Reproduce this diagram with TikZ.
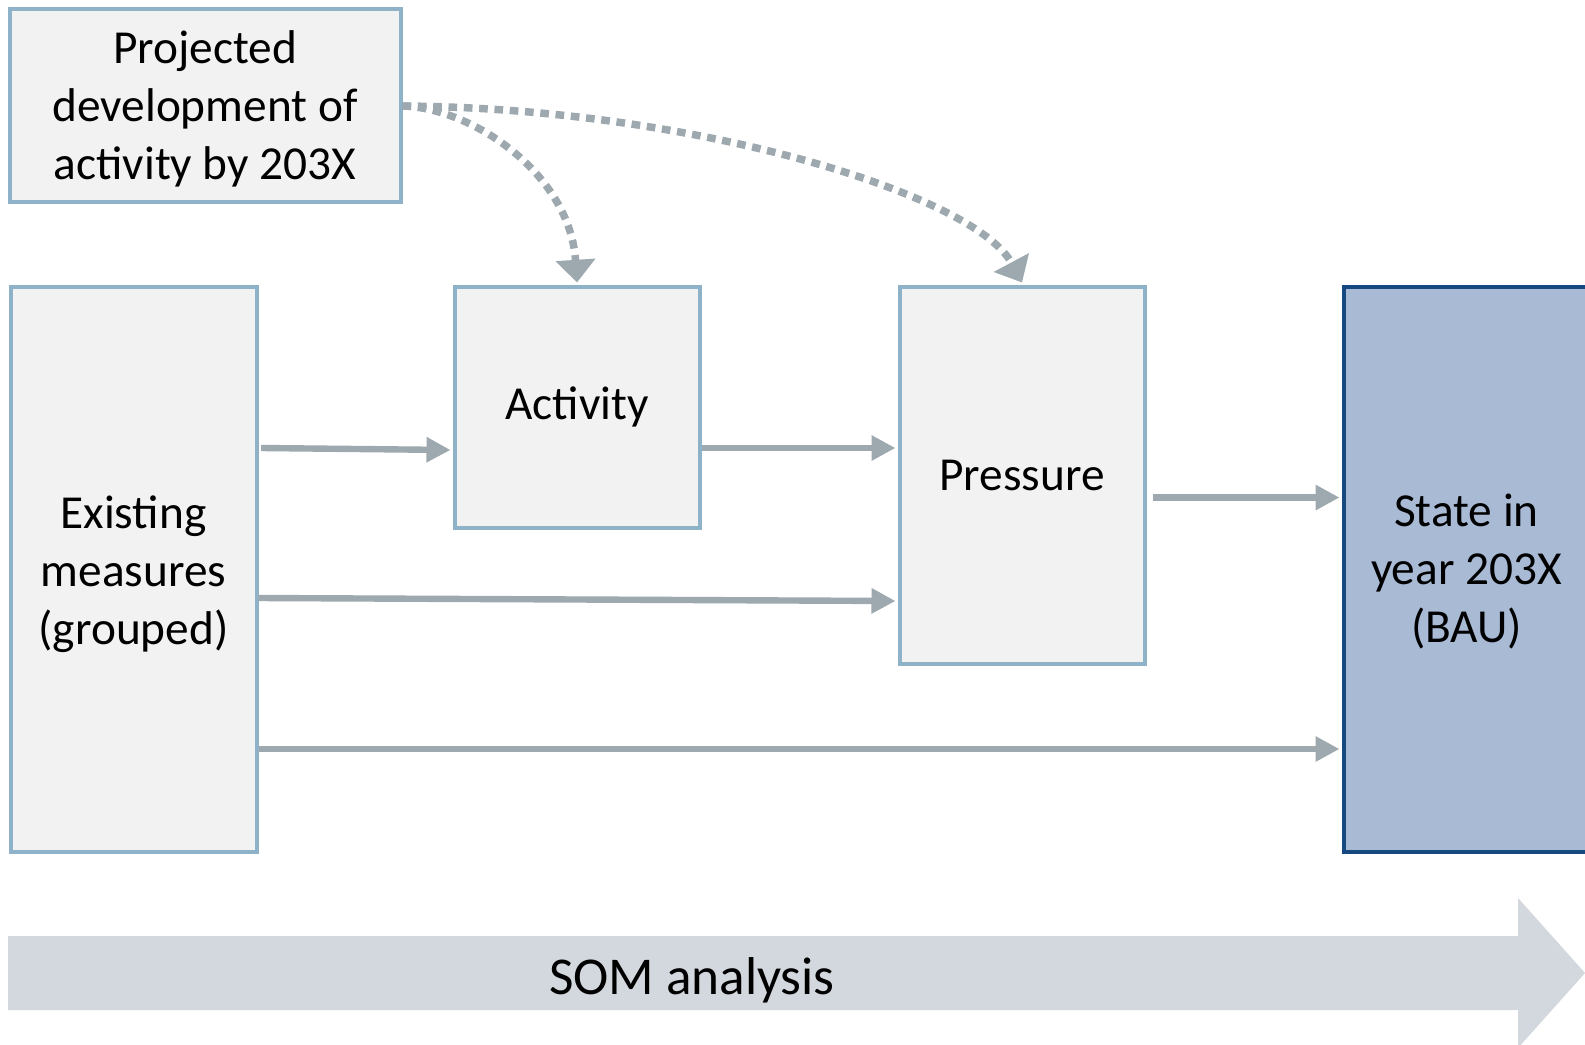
\documentclass[tikz,border=0pt]{standalone}
\usepackage{fontspec}
\setmainfont{Carlito}
\usetikzlibrary{arrows.meta}
\definecolor{boxfill}{HTML}{F2F2F2}
\definecolor{boxline}{HTML}{8EB2C8}
\definecolor{statefill}{HTML}{A9BAD5}
\definecolor{stateline}{HTML}{15497F}
\definecolor{arrowgray}{HTML}{9DA8AF}
\definecolor{bigarrow}{HTML}{D2D8DD}
\newcommand{\mylines}[2]{\raisebox{#1}[\height][\depth]{\begin{tabular}{@{}c@{}}#2\end{tabular}}}
\begin{document}
\begin{tikzpicture}[x=0.75pt,y=-0.75pt,
  box/.style={draw=boxline, fill=boxfill, line width=3pt, inner sep=0pt,
    font=\fontsize{35.5}{43.2}\selectfont, text=black},
  statebox/.style={box, draw=stateline, fill=statefill},
  conn/.style={draw=arrowgray, line width=4.8pt, -{Triangle[length=18pt,width=18pt]}},
  dotconn/.style={draw=arrowgray, line width=5.6pt, dash pattern=on 6.5pt off 5pt,
    -{Triangle[length=17pt,width=29pt]}},
  label/.style={font=\fontsize{39.9}{48}\selectfont, text=black, inner sep=0pt}]
\useasboundingbox (0,0) rectangle (1585,1045);

% big arrow
\fill[bigarrow] (8,936) -- (1518,936) -- (1518,898) -- (1585,973) -- (1518,1048) -- (1518,1010) -- (8,1010) -- cycle;
\node[label] (som) at (692,980) {SOM analysis};

% boxes
\node[box, minimum width=293.25pt, minimum height=144.75pt] (proj) at (205,106)
  {\mylines{-3pt}{Projected\\development of\\activity by 203X}};
\node[box, minimum width=184.5pt, minimum height=423.75pt] (exist) at (133.5,569)
  {\mylines{-4.5pt}{Existing\\measures\\(grouped)}};
\node[box, minimum width=183.75pt, minimum height=180.75pt] (act) at (577,407) {Activity};
\node[box, minimum width=183.75pt, minimum height=282.75pt] (press) at (1022,475) {Pressure};
\node[statebox, minimum width=184.5pt, minimum height=423.75pt] (state) at (1466.5,569)
  {\mylines{-3pt}{State in\\year 203X\\(BAU)}};

% straight connectors
\draw[conn] ([xshift=2pt,yshift=90.75pt]exist.east) -- ([xshift=-1.5pt,yshift=-32.25pt]act.west);
\draw[conn] ([yshift=-30.75pt]act.east) -- ([xshift=-1.5pt,yshift=20.25pt]press.west);
\draw[conn] ([yshift=-21.75pt]exist.east) -- ([xshift=-1.5pt,yshift=-94.5pt]press.west);
\draw[conn] ([xshift=5pt,yshift=-16.9pt]press.east) -- ([xshift=-1.5pt,yshift=53.6pt]state.west);
\draw[conn] ([yshift=-135pt]exist.east) -- ([xshift=-1.5pt,yshift=-135pt]state.west);

% dotted connectors
\draw[dotconn] (proj.east) .. controls +(71,2) and +(-7,-108) .. ([yshift=1.5pt]act.north);
\draw[dotconn] (proj.east) .. controls +(291,2) and +(-47,-88) .. ([yshift=1.5pt]press.north);
\end{tikzpicture}
\end{document}
